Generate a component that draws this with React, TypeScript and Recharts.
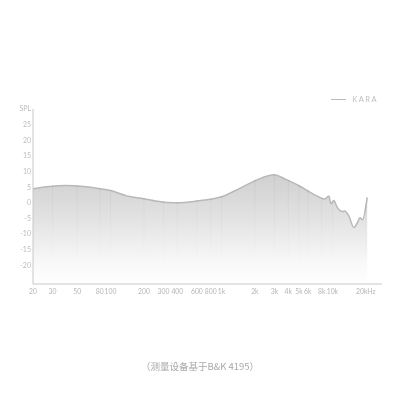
import React from 'react';
import { AreaChart, Area, XAxis, YAxis, ReferenceLine, Legend } from 'recharts';

const freqs = [20, 28, 40, 57, 80, 100, 140, 200, 260, 320, 420, 560, 650, 1000, 1480, 2250, 2950, 3900, 5150, 6800, 8500, 9300, 9700, 10300, 11000, 12300, 12900, 14100, 15600, 16800, 17700, 18700, 20600];
const spl = [4.5, 5.2, 5.5, 5.2, 4.5, 3.9, 2.2, 1.3, 0.5, 0.1, 0, 0.4, 0.7, 1.9, 4.7, 7.8, 9.0, 7.3, 5.2, 2.7, 1.2, 2.2, -0.3, 0.7, -1.3, -2.8, -2.6, -4.3, -7.9, -6.4, -4.8, -5.4, 1.7];
const xTicks = [20, 30, 50, 80, 100, 200, 300, 400, 600, 800, 1000, 2000, 3000, 4000, 5000, 6000, 8000, 10000, 20000];
const xTickLabels = ['20', '30', '50', '80', '100', '200', '300', '400', '600', '800', '1k', '2k', '3k', '4k', '5k', '6k', '8k', '10k', '20kHz'];
const yTicks = [-20, -15, -10, -5, 0, 5, 10, 15, 20, 25, 30];
const yDomain = [-26, 30];
const seriesName = 'KARA';
const caption = '（测量设备基于B&K 4195）';

const data = freqs.map((f, i) => ({ f, v: spl[i] }));

const fmtX = (v: number) => {
  const i = xTicks.indexOf(v);
  return i >= 0 ? xTickLabels[i] : String(v);
};
const fmtY = (v: number) => (v === 30 ? 'SPL' : String(v));

const LegendContent = () => (
  <div style={{ display: 'flex', alignItems: 'center', fontFamily: 'Lato, sans-serif', fontSize: 7.5, color: '#c0c0c0', letterSpacing: 1.5 }}>
    <span style={{ display: 'inline-block', width: 15, height: 1, background: '#bbbbbb', marginRight: 6 }} />
    <span>{seriesName}</span>
  </div>
);

export default function App() {
  return (
    <div style={{ position: 'absolute', left: 0, top: 0, width: 400, height: 400, background: '#fff' }}>
      <style>{`.vgrid, .vgrid line { mix-blend-mode: color-burn; }`}</style>
      <AreaChart width={400} height={300} data={data} margin={{ top: 100, right: 18, bottom: 0, left: 0 }}>
        <defs>
          <linearGradient id="fillG" x1="0" y1="0" x2="0" y2="1">
            <stop offset="0%" stopColor="#d0d0d0" stopOpacity={1} />
            <stop offset="40%" stopColor="#e2e2e2" stopOpacity={1} />
            <stop offset="80%" stopColor="#f8f8f8" stopOpacity={1} />
            <stop offset="100%" stopColor="#ffffff" stopOpacity={1} />
          </linearGradient>
        </defs>
        <XAxis
          dataKey="f"
          type="number"
          scale="log"
          domain={[20, 28000]}
          ticks={xTicks}
          tickFormatter={fmtX}
          allowDataOverflow
          interval={0}
          height={16}
          tickLine={false}
          tickSize={0}
          axisLine={{ stroke: '#c8c8c8' }}
          tick={{ fontSize: 6.8, fill: '#b5b5b5', fontFamily: 'Lato, sans-serif' }}
          tickMargin={5}
        />
        <YAxis
          type="number"
          domain={yDomain}
          ticks={yTicks}
          tickFormatter={fmtY}
          allowDataOverflow
          width={33}
          tickLine={false}
          tickSize={0}
          axisLine={{ stroke: '#c8c8c8' }}
          tick={{ fontSize: 7, fill: '#bdbdbd', fontFamily: 'Lato, sans-serif' }}
          tickMargin={2}
        />
        <Legend verticalAlign="top" align="right" wrapperStyle={{ top: 95, right: 22, left: 'auto', width: 'auto' }} content={<LegendContent />} />
        <Area
          type="monotone"
          dataKey="v"
          name={seriesName}
          stroke="#b8b8b8"
          strokeWidth={1.5}
          fill="url(#fillG)"
          fillOpacity={1}
          baseValue={yDomain[0]}
          isAnimationActive={false}
          dot={false}
          activeDot={false}
        />
        {xTicks.slice(1).map((t) => (
          <ReferenceLine key={t} x={t} className="vgrid" stroke="#d6d6d6" strokeWidth={1} />
        ))}
      </AreaChart>
      <div style={{ position: 'absolute', top: 359, left: 0, width: 400, textAlign: 'center', fontFamily: '"Noto Sans CJK SC", sans-serif', fontSize: 9.5, color: '#a8a8a8' }}>
        {caption}
      </div>
    </div>
  );
}
